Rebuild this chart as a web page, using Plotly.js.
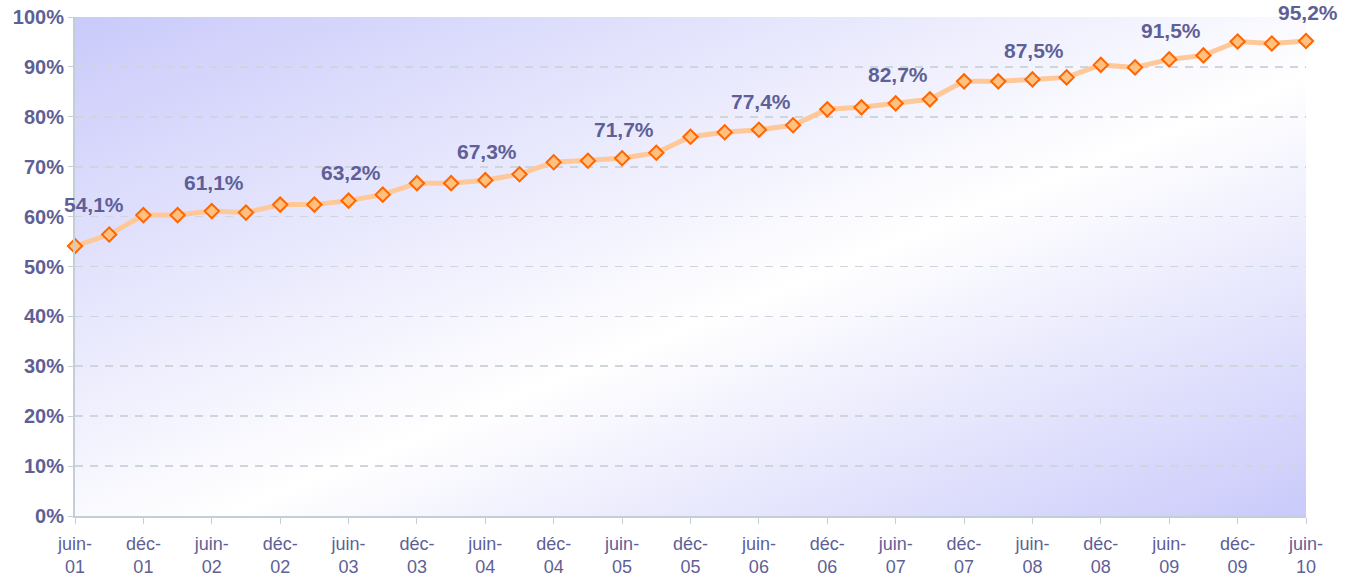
<!DOCTYPE html>
<html>
<head>
<meta charset="utf-8">
<script src="https://cdn.plot.ly/plotly-3.0.1.min.js"></script>
<style>html,body{margin:0;padding:0;background:#fff;}#chart{width:1352px;height:580px;}</style>
</head>
<body>
<div id="chart"></div>
<script>
// Quarterly periods, juin-01 .. juin-10
const periods = ["juin-01","sept-01","déc-01","mars-02","juin-02","sept-02","déc-02","mars-03","juin-03","sept-03","déc-03","mars-04","juin-04","sept-04","déc-04","mars-05","juin-05","sept-05","déc-05","mars-06","juin-06","sept-06","déc-06","mars-07","juin-07","sept-07","déc-07","mars-08","juin-08","sept-08","déc-08","mars-09","juin-09","sept-09","déc-09","mars-10","juin-10"];
const values = [54.1,56.4,60.3,60.3,61.1,60.8,62.4,62.4,63.2,64.4,66.7,66.7,67.3,68.5,70.9,71.2,71.7,72.8,76.0,76.9,77.4,78.3,81.5,81.9,82.7,83.5,87.1,87.1,87.5,87.9,90.4,89.9,91.5,92.3,95.1,94.7,95.2];
const labelledPeriods = ["juin-01","juin-02","juin-03","juin-04","juin-05","juin-06","juin-07","juin-08","juin-09","juin-10"];
const tickPeriods = ["juin-01","déc-01","juin-02","déc-02","juin-03","déc-03","juin-04","déc-04","juin-05","déc-05","juin-06","déc-06","juin-07","déc-07","juin-08","déc-08","juin-09","déc-09","juin-10"];
const yTicks = [0,10,20,30,40,50,60,70,80,90,100];

const xIdx = periods.map((p,i)=>i);
const tickvals = tickPeriods.map(p=>periods.indexOf(p));
const ticktext = tickPeriods.map(p=>p.replace('-', '-<br>'));
const fmt = v => v.toFixed(1).replace('.', ',') + '%';

const txtColor = '#5f5f97';
const annotations = labelledPeriods.map((p,k)=>{
  const i = periods.indexOf(p);
  return {
    x: i, y: values[i], xref:'x', yref:'y',
    text: '<b>' + fmt(values[i]) + '</b>', showarrow:false,
    xanchor:'center', yanchor:'bottom',
    xshift: k===0 ? 19 : 2, yshift: k===0 ? 28 : 15,
    font:{family:'Liberation Sans, Arial, sans-serif', size:21, color:txtColor}
  };
});

const svg = '<svg xmlns="http://www.w3.org/2000/svg" width="100" height="100" viewBox="0 0 100 100" preserveAspectRatio="none">'+
 '<defs><linearGradient id="g" x1="0" y1="0" x2="1" y2="1">'+
 '<stop offset="0" stop-color="#cacafb"/><stop offset="0.56" stop-color="#ffffff"/><stop offset="1" stop-color="#cacafb"/>'+
 '</linearGradient></defs><rect width="100" height="100" fill="url(#g)"/></svg>';
const bgSrc = 'data:image/svg+xml;base64,' + btoa(svg);

const trace = {
  x: xIdx, y: values, type:'scatter', mode:'lines+markers',
  line:{color:'#ffc899', width:5},
  marker:{symbol:'diamond', size:11, color:'#ffc080', line:{color:'#ff6600', width:2}},
  cliponaxis:false, hoverinfo:'skip'
};

const layout = {
  width:1352, height:580,
  margin:{l:75, r:46, t:17, b:64, pad:0},
  paper_bgcolor:'#ffffff', plot_bgcolor:'rgba(0,0,0,0)',
  showlegend:false,
  images:[{source:bgSrc, xref:'paper', yref:'paper', x:0, y:1, sizex:1, sizey:1, sizing:'stretch', xanchor:'left', yanchor:'top', layer:'below'}],
  xaxis:{
    range:[0, periods.length-1], tickmode:'array', tickvals:tickvals, ticktext:ticktext,
    showgrid:false, zeroline:false, showline:true, linecolor:'#c4ced6', linewidth:2,
    ticks:'outside', ticklen:6, tickcolor:'#c4ced6', tickwidth:1,
    ticklabelstandoff:4,
    tickfont:{family:'Liberation Sans, Arial, sans-serif', size:18, color:txtColor},
    tickangle:0
  },
  yaxis:{
    range:[0,100], tickmode:'array', tickvals:yTicks, ticktext:yTicks.map(v=>'<b>'+v+'%</b>'),
    showgrid:true, gridcolor:'#cdd6dc', gridwidth:1.6, griddash:'8px,7px',
    zeroline:false, showline:true, linecolor:'#c4ced6', linewidth:2,
    ticks:'outside', ticklen:5, tickcolor:'#c4ced6',
    tickfont:{family:'Liberation Sans, Arial, sans-serif', size:20, color:txtColor}
  },
  annotations: annotations
};

Plotly.newPlot('chart', [trace], layout, {staticPlot:true, displayModeBar:false});
</script>
</body>
</html>
